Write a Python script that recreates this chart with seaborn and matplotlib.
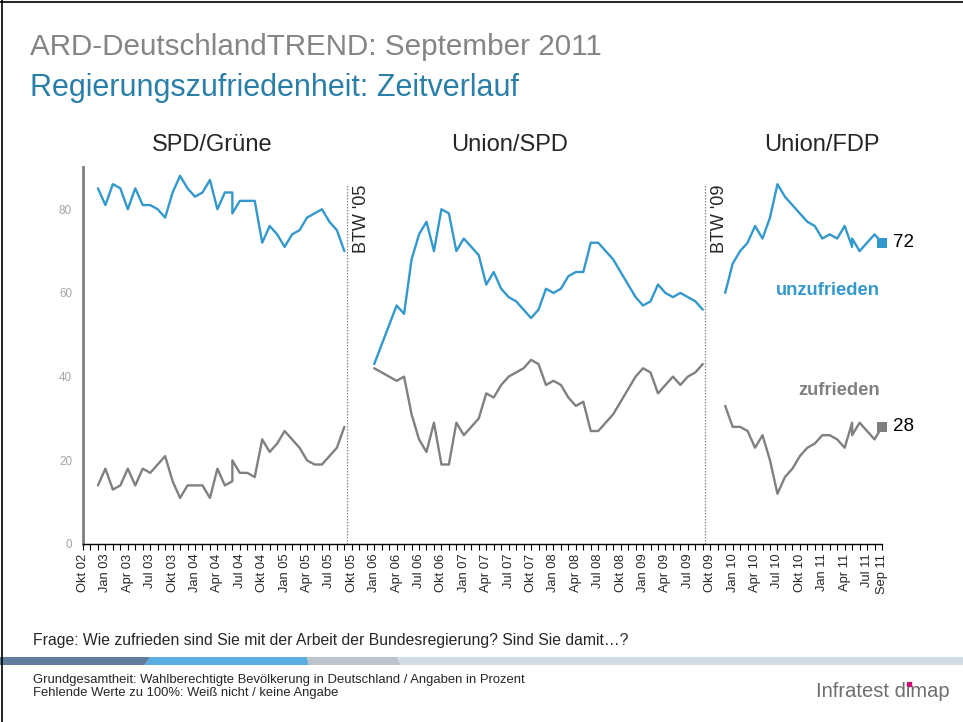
import numpy as np
import pandas as pd
import matplotlib
matplotlib.use("Agg")
import matplotlib.pyplot as plt
from matplotlib.patches import Polygon
import seaborn as sns

# ---------------------------------------------------------------------------
# Data (months counted from Okt 02 = 0), values in percent
# ---------------------------------------------------------------------------
PERIODS = ["SPD/Grüne", "Union/SPD", "Union/FDP"]

p1_months = list(range(2, 21)) + list(range(20, 36))
p1_unzufrieden = [85, 81, 86, 85, 80, 85, 81, 81, 80, 78, 84, 88, 85, 83, 84, 87, 80, 84,
                  84, 79, 82, 82, 82, 72, 76, 74, 71, 74, 75, 78, 79, 80, 77, 75, 70]
p1_zufrieden = [14, 18, 13, 14, 18, 14, 18, 17, 19, 21, 15, 11, 14, 14, 14, 11, 18, 14,
                15, 20, 17, 17, 16, 25, 22, 24, 27, 25, 23, 20, 19, 19, 21, 23, 28]

p2_months = [39] + list(range(42, 84))
p2_unzufrieden = [43, 57, 55, 68, 74, 77, 70, 80, 79, 70, 73, 71, 69, 62, 65, 61, 59, 58,
                  56, 54, 56, 61, 60, 61, 64, 65, 65, 72, 72, 70, 68, 65, 62, 59, 57, 58,
                  62, 60, 59, 60, 59, 58, 56]
p2_zufrieden = [42, 39, 40, 31, 25, 22, 29, 19, 19, 29, 26, 28, 30, 36, 35, 38, 40, 41,
                42, 44, 43, 38, 39, 38, 35, 33, 34, 27, 27, 29, 31, 34, 37, 40, 42, 41,
                36, 38, 40, 38, 40, 41, 43]

p3_months = list(range(86, 104)) + list(range(103, 108))
p3_unzufrieden = [60, 67, 70, 72, 76, 73, 78, 86, 83, 81, 79, 77, 76, 73, 74, 73, 76, 71,
                  73, 70, 72, 74, 72]
p3_zufrieden = [33, 28, 28, 27, 23, 26, 20, 12, 16, 18, 21, 23, 24, 26, 26, 25, 23, 29,
                26, 29, 27, 25, 28]

tick_pos = list(range(0, 106, 3)) + [107]
tick_labels = ["Okt 02", "Jan 03", "Apr 03", "Jul 03", "Okt 03", "Jan 04", "Apr 04",
               "Jul 04", "Okt 04", "Jan 05", "Apr 05", "Jul 05", "Okt 05", "Jan 06",
               "Apr 06", "Jul 06", "Okt 06", "Jan 07", "Apr 07", "Jul 07", "Okt 07",
               "Jan 08", "Apr 08", "Jul 08", "Okt 08", "Jan 09", "Apr 09", "Jul 09",
               "Okt 09", "Jan 10", "Apr 10", "Jul 10", "Okt 10", "Jan 11", "Apr 11",
               "Jul 11", "Sep 11"]

elections = [35.35, 83.3]
election_labels = ["BTW '05", "BTW '09"]

BLUE = "#3399cc"
GREY = "#808080"
PALETTE = {"unzufrieden": BLUE, "zufrieden": GREY}

# ---------------------------------------------------------------------------
# Build long table
# ---------------------------------------------------------------------------
frames = []
for name, months, unz, zuf in [
    (PERIODS[0], p1_months, p1_unzufrieden, p1_zufrieden),
    (PERIODS[1], p2_months, p2_unzufrieden, p2_zufrieden),
    (PERIODS[2], p3_months, p3_unzufrieden, p3_zufrieden),
]:
    frames.append(pd.DataFrame({"month": months, "value": unz,
                                "series": "unzufrieden", "period": name}))
    frames.append(pd.DataFrame({"month": months, "value": zuf,
                                "series": "zufrieden", "period": name}))
df = pd.concat(frames, ignore_index=True)

# ---------------------------------------------------------------------------
# Figure
# ---------------------------------------------------------------------------
sns.set_style("white")
plt.rcParams["font.family"] = ["Liberation Sans", "DejaVu Sans"]

W, H = 963, 722
fig = plt.figure(figsize=(W / 100, H / 100), dpi=100)


def fx(x):
    return x / W


def fy(y):
    return 1 - y / H


ax = fig.add_axes([fx(83), fy(544), (882 - 83) / W, (544 - 167.4) / H])

sns.lineplot(data=df, x="month", y="value", hue="series", units="period",
             estimator=None, sort=False, palette=PALETTE,
             linewidth=1.7, legend=False, ax=ax)

last = df[df["month"] == df["month"].max()]
sns.scatterplot(data=last, x="month", y="value", hue="series", marker="s", s=50,
                palette=PALETTE, edgecolor="none", legend=False, ax=ax,
                zorder=5, clip_on=False)
for _, row in last.iterrows():
    ax.text(row["month"] + 1.5, row["value"], f"{row['value']:.0f}", fontsize=13.5,
            va="center", ha="left", color="black")

ax.set_xlim(0, 107)
ax.set_ylim(0, 90)
ax.set_xlabel("")
ax.set_ylabel("")
ax.set_xticks(tick_pos)
ax.set_xticklabels(tick_labels, rotation=90, fontsize=9.3)
ax.set_xticks(range(0, 108), minor=True)
ax.tick_params(axis="x", which="both", direction="out", length=4, width=0.8,
               color="black", pad=3, bottom=True)
ax.set_yticks([0, 20, 40, 60, 80])
ax.tick_params(axis="y", length=0, pad=8, labelsize=8.4, labelcolor="#a6a6a6")

for side in ["top", "right"]:
    ax.spines[side].set_visible(False)
ax.spines["left"].set_color("#808080")
ax.spines["left"].set_linewidth(2.0)
ax.spines["bottom"].set_color("black")
ax.spines["bottom"].set_linewidth(1.0)

ax.vlines(elections, 0, 86, colors="#8c8c8c", linestyles=(0, (1.2, 1.2)), linewidth=0.9)
for xpos, lab in zip(elections, election_labels):
    ax.text(xpos + 2.0, 86, lab, rotation=90, ha="center", va="top", fontsize=13)

ax.text(106.7, 60.5, "unzufrieden", color=BLUE, fontsize=13.2, fontweight="bold",
        ha="right", va="center")
ax.text(106.7, 36.8, "zufrieden", color=GREY, fontsize=13.2, fontweight="bold",
        ha="right", va="center")

# panel titles
for xc, name in zip([212, 510, 822], PERIODS):
    fig.text(fx(xc), fy(145), name, fontsize=17, ha="center", va="center")

# header
fig.text(fx(30), fy(47), "ARD-DeutschlandTREND: September 2011", fontsize=21.3,
         color="#858585", va="center", ha="left")
fig.text(fx(30), fy(88), "Regierungszufriedenheit: Zeitverlauf", fontsize=22,
         color="#2a7fa8", va="center", ha="left")

# slide frame
fig.add_artist(plt.Line2D([fx(1.5), fx(1.5)], [0, 1], color="black", lw=1.2))
fig.add_artist(plt.Line2D([0, 1], [fy(1.5), fy(1.5)], color="black", lw=1.2))

# footer
fig.text(fx(33), fy(641), "Frage: Wie zufrieden sind Sie mit der Arbeit der "
         "Bundesregierung? Sind Sie damit…?", fontsize=11.3, va="center", ha="left")
stripe = [("#607e9b", [(0, 657), (150, 657), (145, 665), (0, 665)]),
          ("#5aade0", [(150, 657), (307, 657), (309, 665), (145, 665)]),
          ("#bcc5ce", [(307, 657), (397, 657), (401, 665), (309, 665)]),
          ("#d1dce4", [(397, 657), (963, 657), (963, 665), (401, 665)])]
for col, pts in stripe:
    fig.add_artist(Polygon([(fx(x), fy(y)) for x, y in pts], closed=True,
                           facecolor=col, edgecolor="none", transform=fig.transFigure))
fig.text(fx(33), fy(680), "Grundgesamtheit: Wahlberechtigte Bevölkerung in Deutschland / "
         "Angaben in Prozent", fontsize=9.4, va="center", ha="left")
fig.text(fx(33), fy(693), "Fehlende Werte zu 100%: Weiß nicht / keine Angabe",
         fontsize=9.4, va="center", ha="left")

# logo with magenta i-dot
LOGO_SIZE = 14.5
logo = fig.text(fx(950), fy(697), "Infratest dimap", fontsize=LOGO_SIZE,
                color="#6e6e6e", va="baseline", ha="right")
fig.canvas.draw()
r = fig.canvas.get_renderer()
full = logo.get_window_extent(r)
tmp = fig.text(0, 0, "map", fontsize=LOGO_SIZE)
tmp2 = fig.text(0, 0, "imap", fontsize=LOGO_SIZE)
w_map = tmp.get_window_extent(r).width
w_imap = tmp2.get_window_extent(r).width
tmp.remove()
tmp2.remove()
xi = full.x1 - (w_map + w_imap) / 2
em = LOGO_SIZE * 100 / 72
yi = fy(697) * H + 0.67 * em
fig.add_artist(plt.Line2D([xi / W], [yi / H], marker="s", markersize=2.2,
                          color="#d4007a", transform=fig.transFigure))

fig.savefig("out.png", dpi=100)
